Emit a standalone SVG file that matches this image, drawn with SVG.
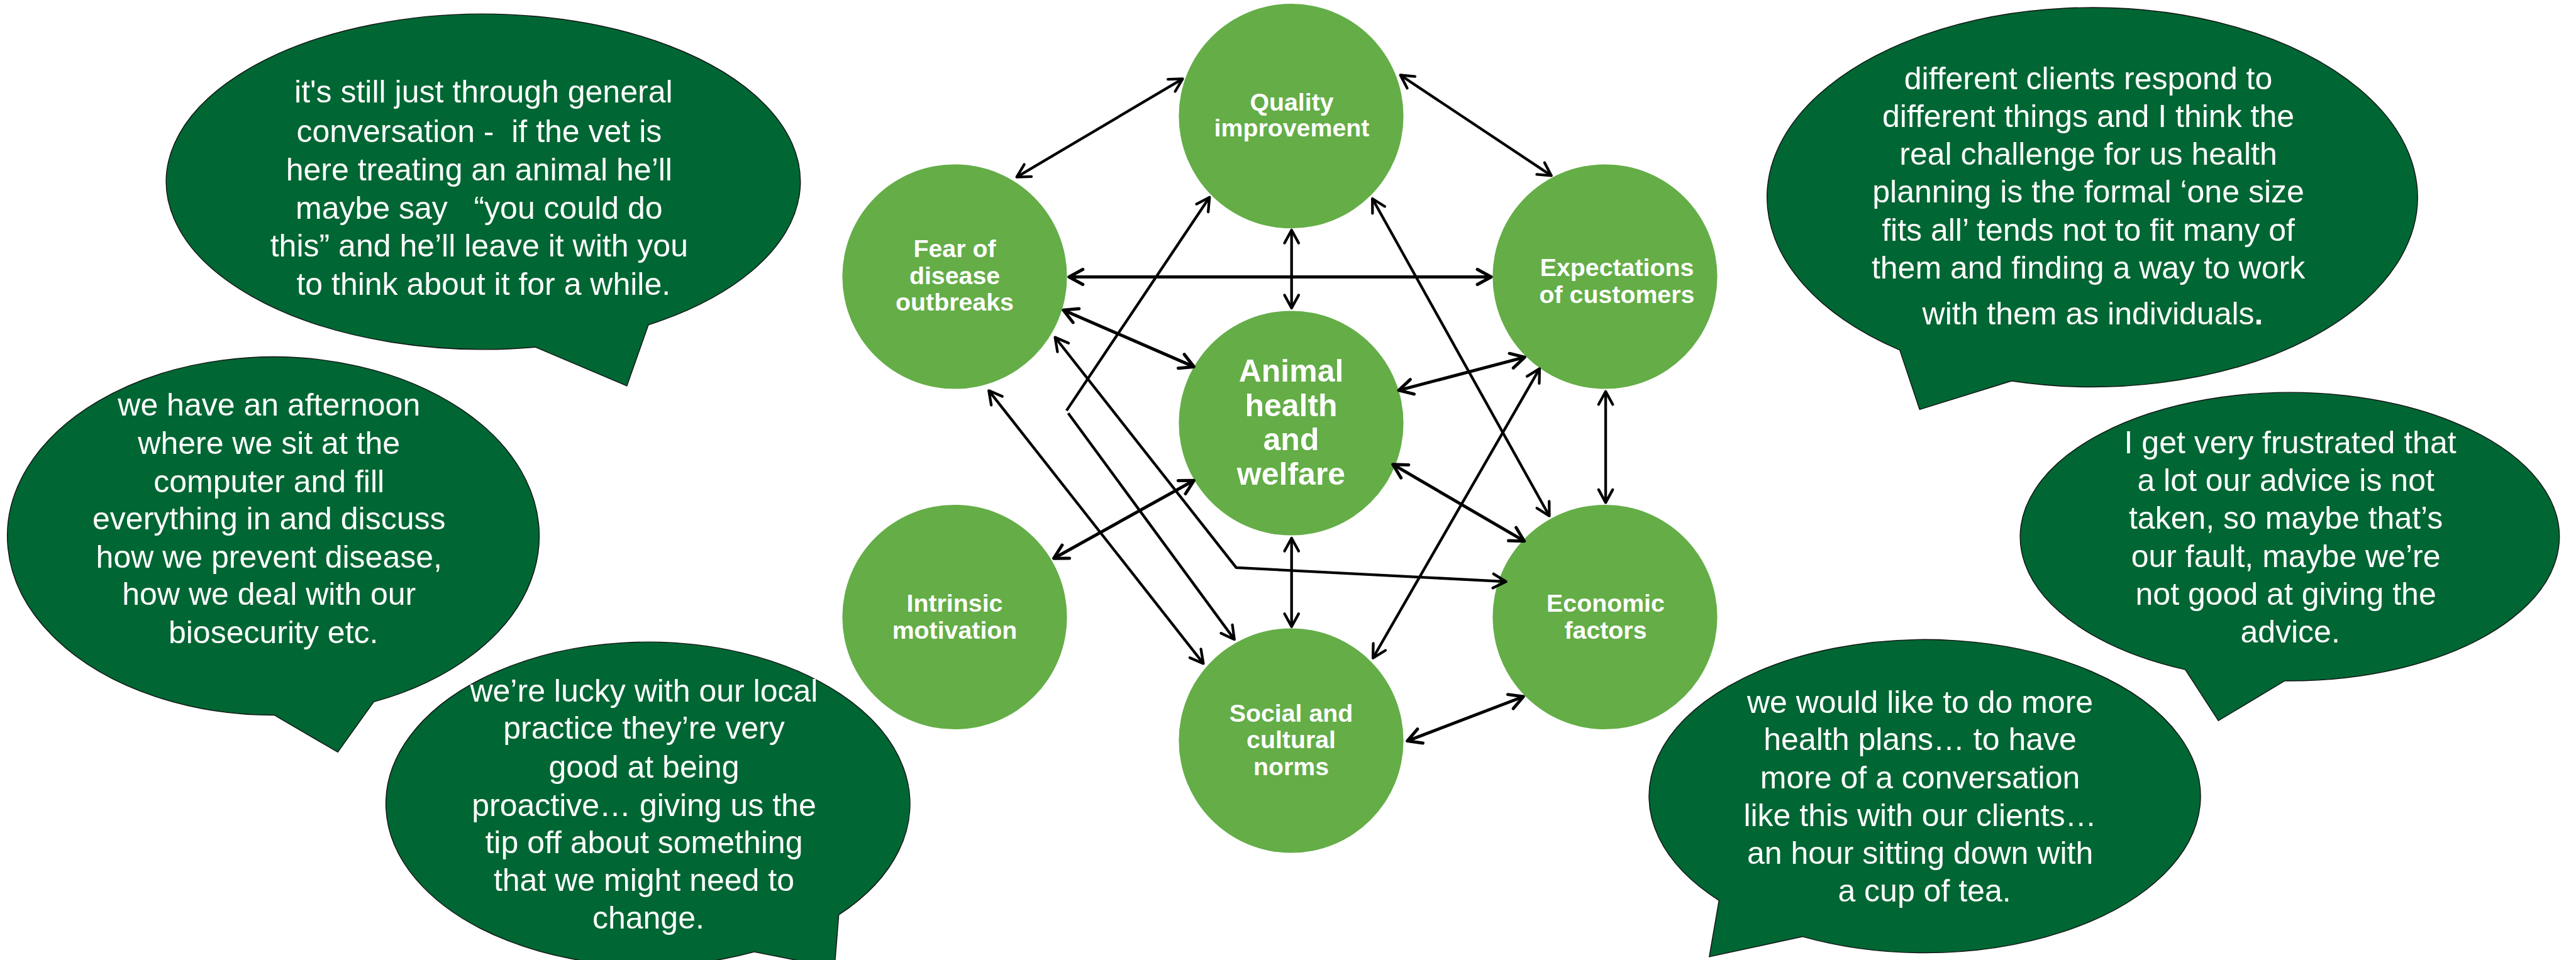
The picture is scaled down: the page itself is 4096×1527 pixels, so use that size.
<svg xmlns="http://www.w3.org/2000/svg" width="4096" height="1527" viewBox="0 0 4096 1527">
  <style>
    .bubble { fill: #006633; stroke: #111; stroke-width: 1.4; }
    .btxt { font-family: "Liberation Sans", Arial, sans-serif; font-size: 50px; fill: #ffffff; text-anchor: middle; }
    .node { fill: #64ad47; }
    .ntxt { font-family: "Liberation Sans", Arial, sans-serif; font-weight: bold; font-size: 39.3px; fill: #ffffff; text-anchor: middle; }
    .ntxt.big { font-size: 50px; }
    .link { fill: none; stroke: #000; stroke-width: 4.3; stroke-linejoin: round; marker-start: url(#ah); marker-end: url(#ah); }
    .link.bold { stroke-width: 5; marker-start: url(#ahb); marker-end: url(#ahb); }
  </style>
  <defs>
    <marker id="ah" markerUnits="userSpaceOnUse" orient="auto-start-reverse" overflow="visible" refX="0" refY="0" markerWidth="1" markerHeight="1">
      <path d="M-20.5,-11.2 L0,0 L-20.5,11.2" fill="none" stroke="#000" stroke-width="4.3" stroke-linecap="round" stroke-linejoin="round"/>
    </marker>
    <marker id="ahb" markerUnits="userSpaceOnUse" orient="auto-start-reverse" overflow="visible" refX="0" refY="0" markerWidth="1" markerHeight="1">
      <path d="M-22,-12 L0,0 L-22,12" fill="none" stroke="#000" stroke-width="5" stroke-linecap="round" stroke-linejoin="round"/>
    </marker>
  </defs>

  <rect width="4096" height="1527" fill="#ffffff"/>

  <!-- quote bubbles -->
  <g id="quotes">
    <g id="quote-vet-conversation">
      <path class="bubble" d="M851.2,552.2 A504.2,266.8 0 1 1 1031,516.8 L996.8,613.9 Z"/>
      <text class="btxt">
        <tspan x="768.8" y="163.4">&#160;it's still just through general</tspan>
        <tspan x="768.8" y="225.7">conversation -&#160; if the vet is</tspan>
        <tspan x="768.8" y="287.1">here treating an animal he&#8217;ll</tspan>
        <tspan x="768.8" y="348.2">maybe say &#160;&#160;&#8220;you could do</tspan>
        <tspan x="768.8" y="408.4">this&#8221; and he&#8217;ll leave it with you</tspan>
        <tspan x="768.8" y="468.6">to think about it for a while.</tspan>
      </text>
    </g>
    <g id="quote-afternoon">
      <path class="bubble" d="M436,1137.5 A422.9,284.9 0 1 1 594.3,1116.4 L537.1,1196.4 Z"/>
      <text class="btxt">
        <tspan x="434.7" y="661">we have an afternoon</tspan>
        <tspan x="434.7" y="721.8">where we sit at the</tspan>
        <tspan x="434.7" y="782.7">computer and fill</tspan>
        <tspan x="434.7" y="842.4">everything in and discuss</tspan>
        <tspan x="434.7" y="903.2">how we prevent disease,</tspan>
        <tspan x="434.7" y="962.1">how we deal with our</tspan>
        <tspan x="434.7" y="1023">biosecurity etc.</tspan>
      </text>
    </g>
    <g id="quote-local-practice">
      <path class="bubble" d="M1199.2,1514.1 A416.7,257.5 0 1 1 1333.7,1455.2 L1327,1539.4 Z"/>
      <text class="btxt">
        <tspan x="1030.9" y="1115.7">we&#8217;re lucky with our local</tspan>
        <tspan x="1030.9" y="1175.3">practice they&#8217;re very</tspan>
        <tspan x="1030.9" y="1236.6">good at being</tspan>
        <tspan x="1030.9" y="1297.9">proactive&#8230; giving us the</tspan>
        <tspan x="1030.9" y="1357.4">tip off about something</tspan>
        <tspan x="1030.9" y="1416.9">that we might need to</tspan>
        <tspan x="1030.9" y="1476.5">change.</tspan>
      </text>
    </g>
    <g id="quote-different-clients">
      <path class="bubble" d="M3020.7,556.9 A517.2,301.7 0 1 1 3198.5,606 L3052.3,651.3 Z"/>
      <text class="btxt">
        <tspan x="3327.5" y="141.9">different clients respond to</tspan>
        <tspan x="3327.5" y="202.1">different things and I think the</tspan>
        <tspan x="3327.5" y="262.2">real challenge for us health</tspan>
        <tspan x="3327.5" y="322.4">planning is the formal &#8216;one size</tspan>
        <tspan x="3327.5" y="382.6">fits all&#8217; tends not to fit many of</tspan>
        <tspan x="3327.5" y="442.8">them and finding a way to work</tspan>
        <tspan x="3327.5" y="515.9">with them as individuals<tspan font-weight="bold">.</tspan></tspan>
      </text>
    </g>
    <g id="quote-advice">
      <path class="bubble" d="M3474.7,1065.1 A428.7,229.4 0 1 1 3633,1083 L3527.3,1146.4 Z"/>
      <text class="btxt">
        <tspan x="3641.6" y="721">&#160;I get very frustrated that</tspan>
        <tspan x="3641.6" y="781.4">a lot our advice is not</tspan>
        <tspan x="3641.6" y="841.3">taken, so maybe that&#8217;s</tspan>
        <tspan x="3641.6" y="901.7">our fault, maybe we&#8217;re</tspan>
        <tspan x="3641.6" y="961.6">not good at giving the</tspan>
        <tspan x="3641.6" y="1022">advice.</tspan>
      </text>
    </g>
    <g id="quote-health-plans">
      <path class="bubble" d="M2733.3,1432.3 A438.5,249.1 0 1 1 2866.3,1489.8 L2717.8,1521.9 Z"/>
      <text class="btxt">
        <tspan x="3060" y="1133.5">we would like to do more</tspan>
        <tspan x="3060" y="1193.3">health plans&#8230; to have</tspan>
        <tspan x="3060" y="1253.8">more of a conversation</tspan>
        <tspan x="3060" y="1313.6">like this with our clients&#8230;</tspan>
        <tspan x="3060" y="1374">an hour sitting down with</tspan>
        <tspan x="3060" y="1433.9">a cup of tea.</tspan>
      </text>
    </g>
  </g>

  <!-- factor nodes -->
  <g id="nodes">
    <g id="node-quality">
      <circle class="node" cx="2053" cy="184.7" r="178.6"/>
      <text class="ntxt"><tspan x="2054" y="176.3">Quality</tspan><tspan x="2054" y="217.1">improvement</tspan></text>
    </g>
    <g id="node-fear">
      <circle class="node" cx="1518" cy="440" r="178.6"/>
      <text class="ntxt"><tspan x="1518" y="409.2">Fear of</tspan><tspan x="1518" y="452.2">disease</tspan><tspan x="1518" y="494.4">outbreaks</tspan></text>
    </g>
    <g id="node-expectations">
      <circle class="node" cx="2552" cy="440" r="178.6"/>
      <text class="ntxt"><tspan x="2571" y="439.3">Expectations</tspan><tspan x="2571" y="481.5">of customers</tspan></text>
    </g>
    <g id="node-animal">
      <circle class="node" cx="2053" cy="673" r="178.6"/>
      <text class="ntxt big"><tspan x="2053" y="607">Animal</tspan><tspan x="2053" y="661.6">health</tspan><tspan x="2053" y="716.1">and</tspan><tspan x="2053" y="770.6">welfare</tspan></text>
    </g>
    <g id="node-intrinsic">
      <circle class="node" cx="1518" cy="981.5" r="178.6"/>
      <text class="ntxt"><tspan x="1518" y="973.3">Intrinsic</tspan><tspan x="1518" y="1016.1">motivation</tspan></text>
    </g>
    <g id="node-social">
      <circle class="node" cx="2053" cy="1178" r="178.6"/>
      <text class="ntxt"><tspan x="2053" y="1147.5">Social and</tspan><tspan x="2053" y="1190.3">cultural</tspan><tspan x="2053" y="1233">norms</tspan></text>
    </g>
    <g id="node-economic">
      <circle class="node" cx="2552" cy="981.5" r="178.6"/>
      <text class="ntxt"><tspan x="2553" y="973.3">Economic</tspan><tspan x="2553" y="1015.6">factors</tspan></text>
    </g>
  </g>

  <!-- two-way links between factors -->
  <g id="connectors">
    <path class="link" d="M1880.5,125.4 L1616.7,281.6"/>
    <path class="link" d="M2226.7,119.5 L2466.8,279.4"/>
    <path class="link bold" d="M1699.8,440.5 L2371.1,440.5"/>
    <path class="link" d="M2053.7,366 L2053.7,490"/>
    <path class="link bold" d="M1690.8,493.2 L1898.4,583.4"/>
    <path class="link bold" d="M2424.4,568.2 L2224.2,620.8"/>
    <path class="link" d="M1572.3,621.3 L1913.4,1055.4"/>
    <path class="link" d="M1923.2,313.8 L1695.8,653.1 M1698.5,657.2 L1962.7,1017.1"/>
    <path class="link" d="M1677.6,536.5 L1965.7,902.9 L2394.7,925.1"/>
    <path class="link" d="M2182.2,316 L2463.5,820.7"/>
    <path class="link" d="M2448,586.4 L2183.1,1046.7"/>
    <path class="link" d="M2553.1,622.8 L2553.1,799.4"/>
    <path class="link bold" d="M2214.8,738.7 L2423.7,860.7"/>
    <path class="link bold" d="M1898.4,764.3 L1675.5,888.2"/>
    <path class="link" d="M2053.7,856 L2053.7,996.8"/>
    <path class="link bold" d="M2237.7,1178.6 L2422.4,1108"/>
  </g>
</svg>
